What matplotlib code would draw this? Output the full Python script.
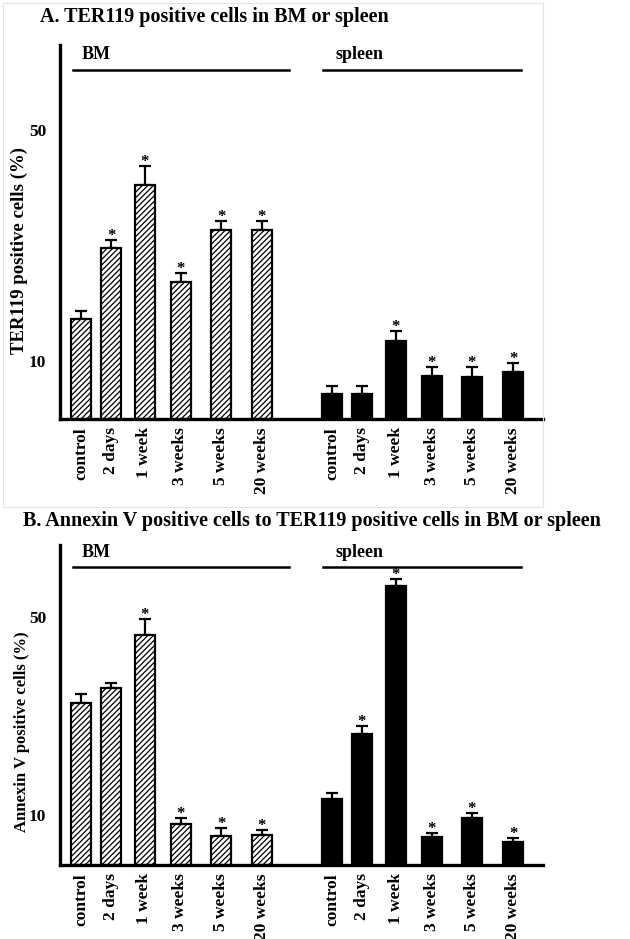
import matplotlib
matplotlib.use("Agg")
from matplotlib import pyplot as plt
from matplotlib.patches import Rectangle

plt.rcParams['font.family'] = ['Liberation Serif', 'DejaVu Serif']
plt.rcParams['font.weight'] = 'bold'
plt.rcParams['hatch.linewidth'] = 0.9

labels = ["control", "2 days", "1 week", "3 weeks", "5 weeks", "20 weeks"]

# A: TER119 positive cells (%)
ter_bm = [17.3, 29.6, 40.6, 23.7, 32.7, 32.7]
ter_bm_err = [1.4, 1.4, 3.2, 1.6, 1.6, 1.6]
ter_bm_sig = [False, True, True, True, True, True]
ter_sp = [4.3, 4.4, 13.6, 7.5, 7.2, 8.2]
ter_sp_err = [1.4, 1.3, 1.7, 1.5, 1.8, 1.5]
ter_sp_sig = [False, False, True, True, True, True]

# B: Annexin V positive cells to TER119 positive cells (%)
ann_bm = [32.6, 35.7, 46.4, 8.2, 5.9, 6.0]
ann_bm_err = [1.8, 1.0, 3.2, 1.3, 1.6, 1.1]
ann_bm_sig = [False, False, True, True, True, True]
ann_sp = [13.4, 26.5, 56.3, 5.7, 9.5, 4.7]
ann_sp_err = [1.1, 1.5, 1.4, 0.7, 0.9, 0.75]
ann_sp_sig = [False, True, True, True, True, True]

# bar layout (x positions in axis units)
offsets = [0, 30, 63.5, 99.5, 140, 181]
bm_x = [o for o in offsets]
sp_x = [251 + o for o in offsets]

W, H = 630, 939
fig = plt.figure(figsize=(W / 100, H / 100), dpi=100)


def draw_panel(ax, bm, bm_err, bm_sig, sp, sp_err, sp_sig, top):
    ax.bar(bm_x, bm, width=20, color="white", edgecolor="black",
           hatch="//////", linewidth=1.6, zorder=2)
    ax.bar(sp_x, sp, width=20, color="black", edgecolor="black",
           linewidth=1.6, zorder=2)
    for xs, vals, errs, sig in [(bm_x, bm, bm_err, bm_sig),
                                (sp_x, sp, sp_err, sp_sig)]:
        ax.errorbar(xs, vals, yerr=[[0] * len(errs), errs], fmt="none",
                    ecolor="black", elinewidth=1.6, capsize=4.5,
                    capthick=1.6, zorder=1)
        for x, v, e, s in zip(xs, vals, errs, sig):
            if s:
                ax.annotate("*", (x, v + e), xytext=(0, 0),
                            textcoords="offset points", ha="center",
                            va="baseline", fontsize=12)
    ax.set_xlim(-21, 462)
    ax.set_ylim(0, top)
    ax.set_xticks(bm_x + sp_x)
    ax.set_xticklabels(labels + labels, rotation=90, fontsize=12.5)
    ax.set_yticks([10, 50])
    ax.set_yticklabels(["10", "50"], fontsize=12.5)
    ax.tick_params(axis="both", length=0)
    ax.tick_params(axis="x", pad=6)
    ax.tick_params(axis="y", pad=10)
    for side in ["top", "right"]:
        ax.spines[side].set_visible(False)
    for side in ["left", "bottom"]:
        ax.spines[side].set_linewidth(2.4)
    # group lines
    line_y = top - 4.4
    ax.plot([-8, 208], [line_y, line_y], color="black", lw=1.8, clip_on=False)
    ax.plot([242, 440], [line_y, line_y], color="black", lw=1.8, clip_on=False)
    ax.text(1, top - 1.6, "BM", fontsize=13, ha="left", va="center")
    ax.text(255, top - 1.6, "spleen", fontsize=13, ha="left", va="center")


ax1 = fig.add_axes([60 / W, (H - 419) / H, 483 / W, 374 / H])
draw_panel(ax1, ter_bm, ter_bm_err, ter_bm_sig, ter_sp, ter_sp_err, ter_sp_sig, 64.8)

ax2 = fig.add_axes([60 / W, (H - 865) / H, 483 / W, 320 / H])
draw_panel(ax2, ann_bm, ann_bm_err, ann_bm_sig, ann_sp, ann_sp_err, ann_sp_sig, 64.5)

fig.text(40 / W, 1 - 17 / H, "A. TER119 positive cells in BM or spleen",
         fontsize=14.5, ha="left", va="center")
fig.text(23 / W, 1 - 521 / H,
         "B. Annexin V positive cells to TER119 positive cells in BM or spleen",
         fontsize=14.5, ha="left", va="center")
fig.text(19 / W, 1 - 250 / H, "TER119 positive cells (%)", rotation=90,
         fontsize=13.5, ha="center", va="center")
fig.text(22 / W, 1 - 732 / H, "Annexin V positive cells (%)", rotation=90,
         fontsize=12, ha="center", va="center")

# faint frame of the upper panel
fig.patches.append(Rectangle((3 / W, 1 - 507 / H), 540 / W, 504 / H,
                             transform=fig.transFigure, fill=False,
                             edgecolor="#e4e4e4", lw=0.8))

fig.savefig("out.png", dpi=100)
